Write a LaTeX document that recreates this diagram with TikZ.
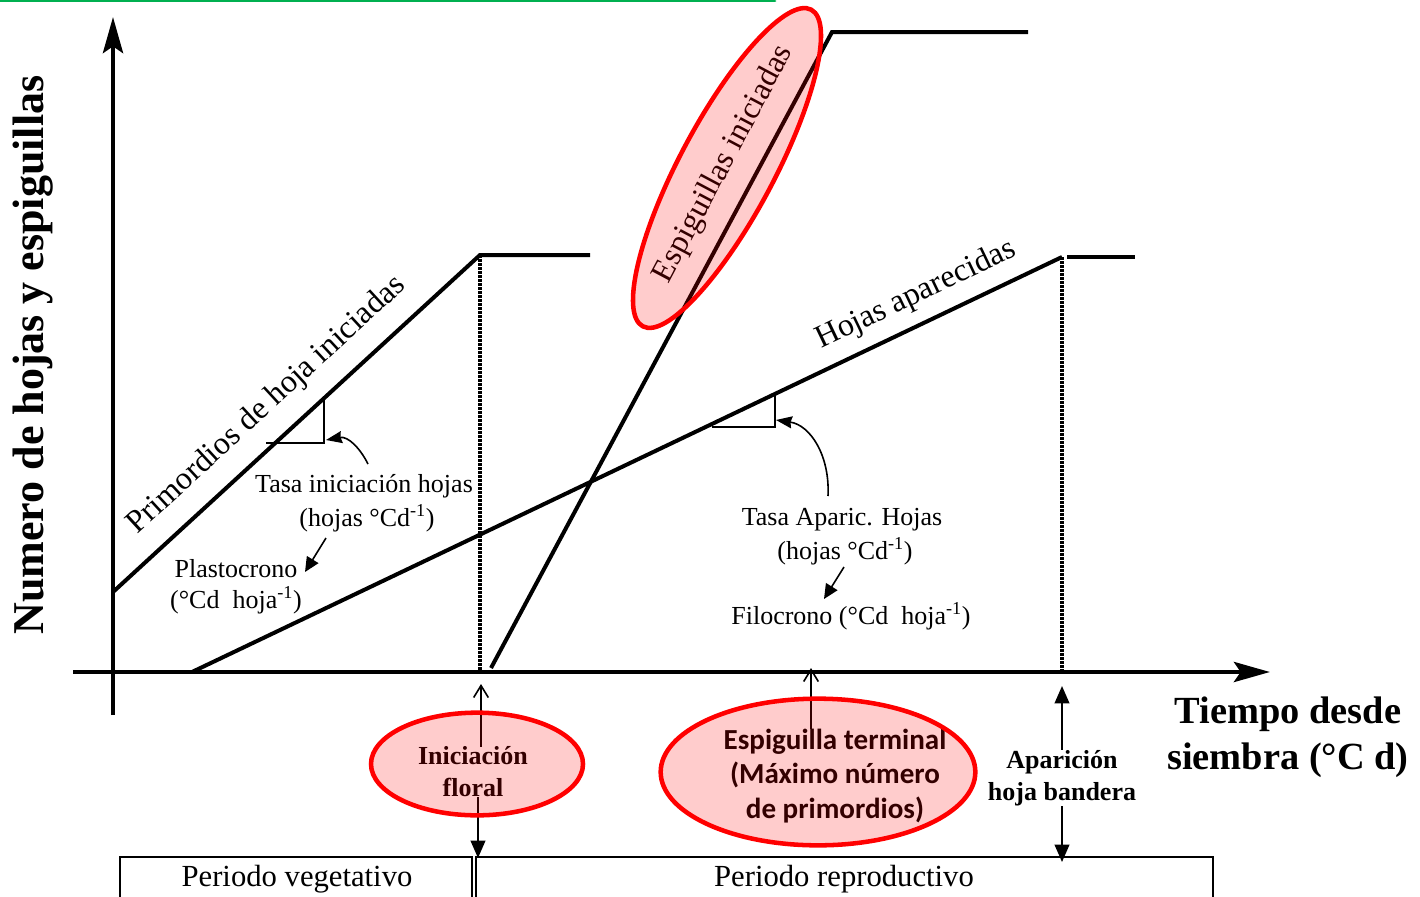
\documentclass[tikz,border=0pt]{standalone}
\usepackage{fontspec}
\setmainfont{Liberation Serif}
\newfontfamily\calibri{Carlito}
\usetikzlibrary{arrows.meta,shapes.geometric}
\definecolor{slidegreen}{RGB}{0,176,80}
\definecolor{hired}{RGB}{255,0,0}
\tikzset{
  axisline/.style={line width=3.4pt},
  axisarrow/.style={line width=3.4pt, -{Stealth[length=27pt,width=15pt,inset=5pt]}},
  curveline/.style={line width=3pt},
  guideline/.style={line width=2.3pt, dash pattern=on 1.9pt off 1.1pt},
  slopeline/.style={line width=1.5pt},
  pointer/.style={line width=1.2pt, -{Stealth[length=12pt,width=9pt,inset=1pt]}},
  smallpointer/.style={line width=1.2pt, -{Triangle[length=11pt,width=10pt]}},
  openup/.style={line width=1.2pt, -{Straight Barb[length=9pt,width=11pt,line width=1.2pt]}},
  markarrow/.style={line width=1.3pt, -{Triangle[length=13pt,width=11pt]}},
  hilite/.style={ellipse, draw=hired, line width=3.4pt, fill=hired, fill opacity=0.2, draw opacity=1, inner sep=0pt, outer sep=0pt},
  lbl/.style={inner sep=0pt, font=\fontsize{19.5}{24}\selectfont, align=center},
  slantlbl/.style={inner sep=0pt, font=\fontsize{24}{28}\selectfont},
  boldlbl/.style={inner sep=0pt, font=\bfseries\fontsize{19.5}{24}\selectfont, align=center},
  termlbl/.style={inner sep=0pt, font=\calibri\bfseries\fontsize{21.8}{26}\selectfont, align=center},
  periodbox/.style={draw, line width=1.1pt},
  periodlbl/.style={inner sep=0pt, font=\fontsize{23}{27}\selectfont},
}
\begin{document}
\begin{tikzpicture}[x=0.75pt,y=-0.75pt]
\useasboundingbox (0,0) rectangle (1420,896);
\clip (0,0) rectangle (1420,896);

% slide border remnant
\draw[slidegreen, line width=2pt, line cap=round] (0,1) -- (775,1);

% axes
\coordinate (ybot) at (113,715);
\coordinate (ytop) at (113,17);
\coordinate (xleft) at (73,672);
\coordinate (xtip) at (1270,672);
\draw[axisarrow] (ybot) -- (ytop);
\draw[axisarrow] (xleft) -- (xtip);

% curves
\coordinate (p0) at (113,592);
\coordinate (p1) at (480,255);
\coordinate (p2) at (590,255);
\coordinate (h0) at (192,672);
\coordinate (h1) at (1062,257);
\coordinate (h2) at (1067,257);
\coordinate (h3) at (1135,257);
\coordinate (e0) at (491,668);
\coordinate (e1) at (832,32);
\coordinate (e2) at (1028,32);
\draw[curveline, line join=miter] (p0) -- (p1) -- (p2);
\draw[curveline] (h0) -- (h1);
\draw[curveline] (h2) -- (h3);
\draw[curveline, line join=miter] (e0) -- (e1) -- (e2);

% dotted guides
\coordinate (g1) at (480,672);
\coordinate (g2) at (1062,672);
\draw[guideline] (p1) -- (g1);
\draw[guideline] (h1) -- (g2);

% slope triangles
\coordinate (s1a) at (266,443);
\coordinate (s1b) at (324,443);
\coordinate (s1c) at (324,400);
\draw[slopeline] (s1a) -- (s1b) -- (s1c);
\coordinate (s2a) at (712,427);
\coordinate (s2b) at (775,427);
\coordinate (s2c) at (775,396);
\draw[slopeline] (s2a) -- (s2b) -- (s2c);

% curve labels
\node[slantlbl, rotate=42.6] (primlbl) at (267,405) {Primordios de hoja iniciadas};
\node[slantlbl, rotate=25.6] (hojlbl) at (916,295) {Hojas aparecidas};
\node[slantlbl, rotate=62] (espilbl) at (724,164) {Espiguillas iniciadas};

% rate annotations
\node[lbl] (tasa1) at (364,486) {Tasa iniciación hojas};
\node[lbl] (unit1) at (367,518) {(hojas °Cd\textsuperscript{-1})};
\node[lbl] (plast) at (236,569) {Plastocrono};
\node[lbl] (plastu) at (236,600) {(°Cd~ hoja\textsuperscript{-1})};
\node[lbl] (tasa2) at (842,520) {Tasa Aparic. Hojas};
\node[lbl] (unit2) at (845,551) {(hojas °Cd\textsuperscript{-1})};
\node[lbl] (filo) at (851,616) {Filocrono (°Cd~ hoja\textsuperscript{-1})};

\coordinate (a1s) at (368,464);
\coordinate (a1e) at (326,440);
\draw[pointer] (a1s) .. controls (360,448) and (348,436) .. (a1e);
\coordinate (a2s) at (828,496);
\coordinate (a2e) at (776,420);
\draw[pointer] (a2s) .. controls (830,455) and (810,425) .. (a2e);
\coordinate (b1s) at (326,538);
\coordinate (b1e) at (305,572);
\draw[smallpointer] (b1s) -- (b1e);
\coordinate (b2s) at (844,567);
\coordinate (b2e) at (824,599);
\draw[smallpointer] (b2s) -- (b2e);

% event labels below axis
\node[boldlbl] (inif) at (473,772) {Iniciación\\floral};
\node[termlbl] (term) at (835,776) {Espiguilla terminal\\(Máximo número\\de primordios)};
\node[boldlbl] (apar) at (1062,778) {Aparición\\hoja bandera};

\coordinate (ifa) at (481,684);
\coordinate (ifb) at (478,858);
\coordinate (ta) at (811,668);
\coordinate (apa) at (1062,686);
\coordinate (apb) at (1062,862);
\draw[openup] (ifa |- inif.north) -- (ifa);
\draw[markarrow] (ifb |- inif.south) -- (ifb);
\draw[openup] (ta |- term.north) -- (ta);
\draw[markarrow] (apa |- apar.north) -- (apa);
\draw[markarrow] (apb |- apar.south) -- (apb);

% highlight ellipses (translucent, on top)
\node[hilite, rotate=62, minimum width=269pt, minimum height=71pt] (espiE) at (727,168) {};
\node[hilite, minimum width=159pt, minimum height=77pt] (inifE) at (477,764) {};
\node[hilite, minimum width=236pt, minimum height=110pt] (termE) at (818,772) {};

% periods
\draw[periodbox] (120,857) rectangle (472,910);
\draw[periodbox] (476,857) rectangle (1213,910);
\node[periodlbl] (veg) at (297,879) {Periodo vegetativo};
\node[periodlbl] (rep) at (844,879) {Periodo reproductivo};

% axis titles
\node[inner sep=0pt, font=\bfseries\fontsize{33}{38}\selectfont, rotate=90] (ylab) at (33,355) {Numero de hojas y espiguillas};
\node[inner sep=0pt, font=\bfseries\fontsize{28.8}{34.5}\selectfont, align=center] (xlab) at (1288,737) {Tiempo desde\\siembra (°C d)};
\end{tikzpicture}
\end{document}
